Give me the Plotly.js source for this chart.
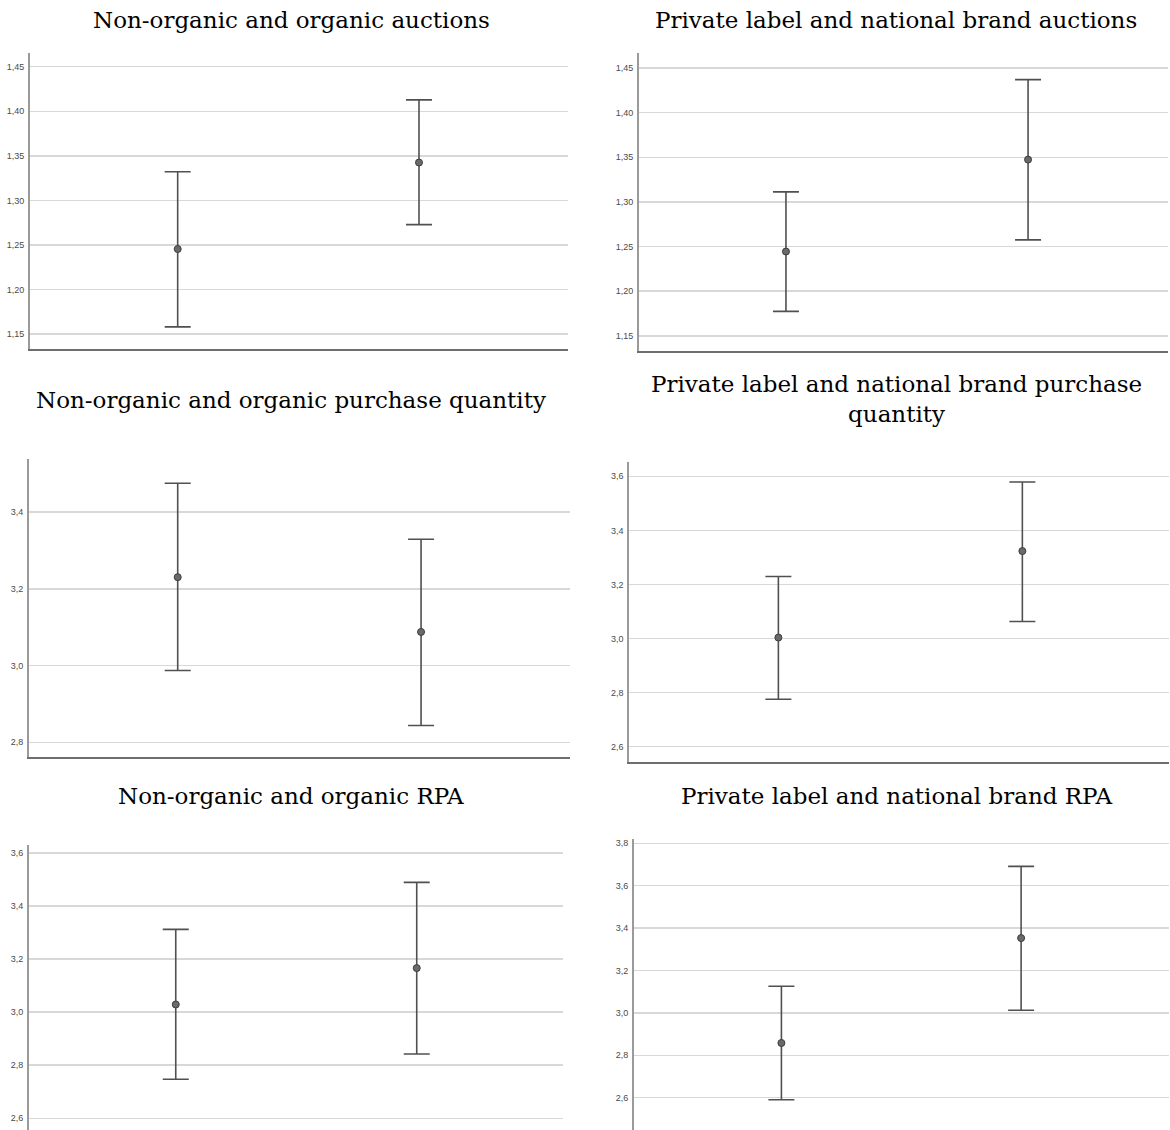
<!DOCTYPE html>
<html>
<head>
<meta charset="utf-8">
<script src="https://cdn.plot.ly/plotly-3.0.1.min.js"></script>
<style>html,body{margin:0;padding:0;background:#fff;}#chart{width:1170px;height:1130px;}</style>
</head>
<body>
<div id="chart"></div>
<script>
// ---- data ----
const titles = [
  "Non-organic and organic auctions",
  "Private label and national brand auctions",
  "Non-organic and organic purchase quantity",
  "Private label and national brand purchase<br>quantity",
  "Non-organic and organic RPA",
  "Private label and national brand RPA"
];
const groups = [0, 1];
const auctionsOrgMean  = [1.2455, 1.3425];
const auctionsOrgUpper = [1.3322, 1.4128];
const auctionsOrgLower = [1.1582, 1.2728];
const auctionsPlMean   = [1.2444, 1.3474];
const auctionsPlUpper  = [1.3112, 1.4370];
const auctionsPlLower  = [1.1773, 1.2574];
const qtyOrgMean  = [3.2302, 3.0875];
const qtyOrgUpper = [3.4747, 3.3290];
const qtyOrgLower = [2.9870, 2.8437];
const qtyPlMean   = [3.0037, 3.3235];
const qtyPlUpper  = [3.2296, 3.5790];
const qtyPlLower  = [2.7756, 3.0629];
const rpaOrgMean  = [3.0290, 3.1660];
const rpaOrgUpper = [3.3120, 3.4890];
const rpaOrgLower = [2.7472, 2.8426];
const rpaPlMean   = [2.8580, 3.3530];
const rpaPlUpper  = [3.1260, 3.6910];
const rpaPlLower  = [2.5906, 3.0127];

const series = [
  [auctionsOrgMean, auctionsOrgUpper, auctionsOrgLower],
  [auctionsPlMean, auctionsPlUpper, auctionsPlLower],
  [qtyOrgMean, qtyOrgUpper, qtyOrgLower],
  [qtyPlMean, qtyPlUpper, qtyPlLower],
  [rpaOrgMean, rpaOrgUpper, rpaOrgLower],
  [rpaPlMean, rpaPlUpper, rpaPlLower]
];

// ---- layout geometry (pixels) ----
const W = 1170, H = 1130;
const panels = [
  {x0: 30,    x1: 568,  top: 52.7,  bot: 349.3, yr: [1.133, 1.4657],  xr: [-0.612, 1.6175], dt: 0.05, t0: 1.15, fmt: '.2f', bottomAxis: true,  tx: 291, ty: 20},
  {x0: 639,   x1: 1168, top: 53.3,  bot: 350.5, yr: [1.1335, 1.4665], xr: [-0.607, 1.578],  dt: 0.05, t0: 1.15, fmt: '.2f', bottomAxis: true,  tx: 896, ty: 20},
  {x0: 29,    x1: 570,  top: 459,   bot: 757,   yr: [2.7617, 3.538],  xr: [-0.611, 1.612],  dt: 0.2,  t0: 2.8,  fmt: '.1f', bottomAxis: true,  tx: 291, ty: 400},
  {x0: 629.3, x1: 1169, top: 461.7, bot: 761.7, yr: [2.5445, 3.654],  xr: [-0.611, 1.601],  dt: 0.2,  t0: 2.6,  fmt: '.1f', bottomAxis: true,  tx: 896, ty: 399},
  {x0: 29,    x1: 563,  top: 845,   bot: 1130,  yr: [2.5559, 3.630],  xr: [-0.609, 1.607],  dt: 0.2,  t0: 2.6,  fmt: '.1f', bottomAxis: false, tx: 291, ty: 796},
  {x0: 634,   x1: 1169, top: 839.3, bot: 1130,  yr: [2.4476, 3.8189], xr: [-0.615, 1.617],  dt: 0.2,  t0: 2.6,  fmt: '.1f', bottomAxis: false, tx: 896, ty: 796}
];

const traces = [];
const layout = {
  width: W, height: H,
  margin: {l: 0, r: 0, t: 0, b: 0},
  paper_bgcolor: '#ffffff',
  plot_bgcolor: '#ffffff',
  showlegend: false,
  separators: ',.',
  annotations: []
};

panels.forEach((p, i) => {
  const n = i + 1;
  const sfx = (n === 1 ? '' : String(n));
  const [mean, upper, lower] = series[i];
  traces.push({
    type: 'scatter', mode: 'markers',
    x: groups, y: mean,
    xaxis: 'x' + sfx, yaxis: 'y' + sfx,
    marker: {size: 7, color: '#6a6a6a', line: {color: '#3c3c3c', width: 1}},
    error_y: {
      type: 'data', symmetric: false,
      array: upper.map((u, k) => u - mean[k]),
      arrayminus: lower.map((l, k) => mean[k] - l),
      color: '#505050', thickness: 1.6, width: 13
    },
    hoverinfo: 'skip'
  });
  layout['xaxis' + sfx] = {
    domain: [p.x0 / W, p.x1 / W],
    range: p.xr,
    showticklabels: false, ticks: '', showgrid: false, zeroline: false,
    showline: p.bottomAxis, linecolor: '#6e6e6e', linewidth: 2,
    anchor: 'y' + sfx, fixedrange: true
  };
  layout['yaxis' + sfx] = {
    domain: [1 - p.bot / H, 1 - p.top / H],
    range: p.yr,
    tick0: p.t0, dtick: p.dt, tickformat: p.fmt,
    ticks: '', ticklabelstandoff: 2,
    tickfont: {family: 'Liberation Sans, Arial, sans-serif', size: 9, color: '#4a4a4a'},
    showgrid: true, gridcolor: '#d8d8d8', gridwidth: 1.5,
    zeroline: false,
    showline: true, linecolor: '#9a9a9a', linewidth: 2,
    anchor: 'x' + sfx, fixedrange: true
  };
  layout.annotations.push({
    text: titles[i], xref: 'paper', yref: 'paper',
    x: p.tx / W, y: 1 - p.ty / H, xanchor: 'center', yanchor: 'middle',
    showarrow: false, align: 'center',
    font: {family: 'DejaVu Serif, serif', size: 23, color: '#000000'}
  });
});

Plotly.newPlot('chart', traces, layout, {staticPlot: true, displayModeBar: false});
</script>
</body>
</html>
